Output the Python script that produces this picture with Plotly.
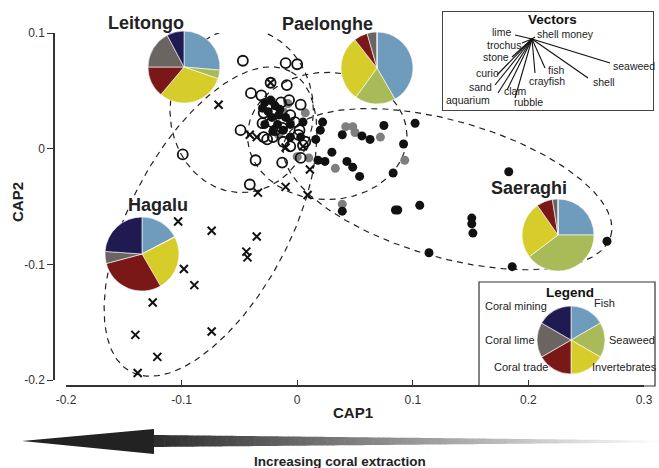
import numpy as np
import plotly.graph_objects as go

W, H = 659, 468
FONT = "Liberation Sans, Arial, Helvetica, sans-serif"

# ---------------- data ----------------
# Hagalu (crosses)
hagalu_x = [-0.103, -0.074, -0.035, -0.044, -0.043, -0.098, -0.089, -0.125, -0.140, -0.074,
            -0.121, -0.138, -0.023, -0.068, -0.041, -0.035, -0.010, 0.005, 0.011, -0.010,
            -0.034, 0.009]
hagalu_y = [-0.063, -0.071, -0.076, -0.089, -0.094, -0.104, -0.118, -0.133, -0.161, -0.158,
            -0.180, -0.194, 0.057, 0.038, 0.012, 0.010, 0.001, 0.002, -0.018, -0.033,
            -0.038, -0.040]

# Leitongo (open circles)
leitongo_x = [-0.047, -0.010, 0.000, -0.023, -0.009, -0.040, -0.031, -0.007, -0.014, 0.003,
              -0.026, -0.029, -0.006, -0.002, -0.022, -0.030, -0.049, -0.019, -0.013, 0.002,
              -0.029, -0.021, -0.012, 0.001, 0.005, -0.006, -0.099, -0.036, -0.013, 0.003,
              -0.041, -0.026, 0.007]
leitongo_y = [0.076, 0.074, 0.073, 0.057, 0.055, 0.048, 0.046, 0.042, 0.040, 0.038,
              0.036, 0.031, 0.029, 0.023, 0.023, 0.022, 0.016, 0.016, 0.018, 0.016,
              0.010, 0.010, 0.006, 0.012, 0.003, 0.002, -0.005, -0.010, -0.012, -0.008,
              -0.031, 0.008, 0.006]

# Paelonghe (grey dots)
paelonghe_x = [-0.022, 0.007, 0.042, 0.048, 0.050, 0.072, 0.093, 0.033, 0.039, 0.000,
               0.010, -0.012, -0.006, -0.016, -0.008]
paelonghe_y = [0.041, 0.031, 0.019, 0.019, 0.014, 0.010, -0.010, -0.017, -0.048, -0.007,
               -0.008, 0.032, 0.023, 0.012, 0.039]

# Saeraghi (black dots)
saeraghi_x = [0.022, 0.020, 0.016, 0.005, -0.006, 0.003, 0.039, 0.056, 0.063, 0.075,
              0.102, 0.092, 0.030, 0.018, 0.024, 0.043, 0.048, 0.054, 0.083, 0.183,
              0.039, 0.085, 0.087, 0.106, 0.151, 0.151, 0.152, 0.114, 0.186, 0.268,
              -0.028, -0.023, -0.019, -0.025, -0.015, -0.022, -0.010, -0.017, -0.028, -0.012,
              -0.006, -0.021, -0.016, -0.030]
saeraghi_y = [0.023, 0.016, 0.008, 0.023, 0.010, 0.010, 0.012, 0.011, 0.008, 0.020,
              0.022, 0.004, -0.003, -0.010, -0.011, -0.011, -0.016, -0.024, -0.021, -0.020,
              -0.054, -0.053, -0.053, -0.049, -0.060, -0.065, -0.073, -0.090, -0.102, -0.080,
              0.040, 0.042, 0.037, 0.032, 0.034, 0.027, 0.027, 0.021, 0.021, 0.016,
              0.021, 0.015, 0.029, 0.035]

# group ellipses: centre x, centre y, semi-axis a, semi-axis b, angle (deg)
ellipse_names = ["Leitongo", "Paelonghe", "Hagalu", "Saeraghi"]
ellipse_cx = [-0.048, 0.026, -0.075, 0.130]
ellipse_cy = [0.033, 0.011, -0.063, -0.035]
ellipse_a = [0.062, 0.069, 0.147, 0.147]
ellipse_b = [0.071, 0.055, 0.069, 0.059]
ellipse_ang = [0, 0, 62, -16]

# pies (Fish, Seaweed, Invertebrates, Coral trade, Coral lime, Coral mining)
pie_labels = ["Fish", "Seaweed", "Invertebrates", "Coral trade", "Coral lime", "Coral mining"]
pie_colors = ["#6f9cbd", "#a8bb58", "#d6cc2a", "#7a1717", "#6b6561", "#1f1a4f"]
leitongo_pie = [95, 14, 111, 50, 62, 28]
paelonghe_pie = [150, 66, 106, 22, 16, 0]
hagalu_pie = [62, 1, 87, 105, 19, 86]
saeraghi_pie = [90, 143, 92, 26, 9, 0]
legend_pie = [1, 1, 1, 1, 1, 1]

# vectors (inset units)
vector_names = ["lime", "shell money", "trochus", "stone", "curio", "sand", "aquarium",
                "clam", "rubble", "crayfish", "fish", "shell", "seaweed"]
vector_dx = [-17, 3, -10, -20, -35, -37, -34, -25, -17, 3, 13, 56, 78]
vector_dy = [4, 2, -4, -18, -36, -46, -54, -51, -59, -34, -29, -39, -24]
# label anchor positions (inset units) and side
vlabel_x = [-20, 4, -10, -22, -32, -39, -41, -29, -19, -4, 15, 60, 80]
vlabel_y = [7.5, 5, -6, -18, -34, -48, -61, -52, -63, -42, -31, -43, -27]
vlabel_side = ["right", "left", "right", "right", "right", "right", "right",
               "left", "left", "left", "left", "left", "left"]

x_ticks = [-0.2, -0.1, 0, 0.1, 0.2, 0.3]
x_ticktext = ["-0.2", "-0.1", "0", "0.1", "0.2", "0.3"]
y_ticks = [-0.2, -0.1, 0, 0.1]
y_ticktext = ["-0.2", "-0.1", "0", "0.1"]


def px(x):
    return x / W


def py(y):
    return 1 - y / H


fig = go.Figure()

# ellipses
t = np.linspace(0, 2 * np.pi, 300)
for cx, cy, a, b, ang in zip(ellipse_cx, ellipse_cy, ellipse_a, ellipse_b, ellipse_ang):
    th = np.deg2rad(ang)
    ex = cx + a * np.cos(t) * np.cos(th) - b * np.sin(t) * np.sin(th)
    ey = cy + a * np.cos(t) * np.sin(th) + b * np.sin(t) * np.cos(th)
    fig.add_trace(go.Scatter(x=ex, y=ey, mode="lines", hoverinfo="skip",
                             line=dict(color="#222", width=1.2, dash="6px,5px")))

fig.add_trace(go.Scatter(x=paelonghe_x, y=paelonghe_y, mode="markers", name="Paelonghe",
                         marker=dict(symbol="circle", size=9, color="#7f7f7f")))
fig.add_trace(go.Scatter(x=saeraghi_x, y=saeraghi_y, mode="markers", name="Saeraghi",
                         marker=dict(symbol="circle", size=9, color="#111")))
fig.add_trace(go.Scatter(x=leitongo_x, y=leitongo_y, mode="markers", name="Leitongo",
                         marker=dict(symbol="circle-open", size=10, color="#111",
                                     line=dict(width=1.8, color="#111"))))
fig.add_trace(go.Scatter(x=hagalu_x, y=hagalu_y, mode="markers", name="Hagalu",
                         marker=dict(symbol="x-thin", size=8, color="#111",
                                     line=dict(width=2, color="#111"))))

# pies: (values, centre px, centre py, radius px)
pie_specs = [
    (leitongo_pie, 184, 67, 36),
    (paelonghe_pie, 377, 68, 36),
    (hagalu_pie, 142, 254, 37),
    (saeraghi_pie, 558, 235, 36),
    (legend_pie, 571, 340, 34),
]
for vals, cx, cy, r in pie_specs:
    fig.add_trace(go.Pie(labels=pie_labels, values=vals, sort=False, direction="clockwise",
                         rotation=0, textinfo="none", hoverinfo="label+value",
                         marker=dict(colors=pie_colors, line=dict(color="white", width=0.6)),
                         domain=dict(x=[px(cx - r), px(cx + r)], y=[py(cy + r), py(cy - r)]),
                         showlegend=False))

# vectors inset
vx, vy = [], []
for dx, dy in zip(vector_dx, vector_dy):
    vx += [0, dx, None]
    vy += [0, dy, None]
fig.add_trace(go.Scatter(x=vx, y=vy, mode="lines", xaxis="x2", yaxis="y2", hoverinfo="skip",
                         line=dict(color="#111", width=1.1)))

annotations = []


def note(x, y, text, size, xanchor="center", color="#222", angle=0):
    annotations.append(dict(x=px(x), y=py(y), xref="paper", yref="paper", text=text,
                            showarrow=False, xanchor=xanchor, yanchor="middle",
                            textangle=angle, font=dict(family=FONT, size=size, color=color)))


for name, lx, ly, side in zip(vector_names, vlabel_x, vlabel_y, vlabel_side):
    annotations.append(dict(x=lx, y=ly, xref="x2", yref="y2", text=name, showarrow=False,
                            xanchor=side, yanchor="middle", borderpad=0,
                            font=dict(family=FONT, size=10.5, color="#222")))
note(552, 20, "<b>Vectors</b>", 13.5, color="#111")

# site labels
for txt, x, y in [("Leitongo", 146, 23), ("Paelonghe", 327, 24), ("Hagalu", 158, 205),
                  ("Saeraghi", 529, 188)]:
    note(x, y, f"<b>{txt}</b>", 18)

# legend box texts
note(570, 292, "<b>Legend</b>", 13.5, color="#111")
for txt, x, y in [("Coral mining", 483, 306), ("Fish", 592, 303),
                  ("Coral lime", 483, 340), ("Seaweed", 607, 340),
                  ("Coral trade", 492, 367), ("Invertebrates", 590, 367)]:
    note(x, y, txt, 11, xanchor="left")

# axis titles and arrow caption
note(353, 412, "<b>CAP1</b>", 15)
note(17, 202, "<b>CAP2</b>", 15, angle=-90)
note(340, 461, "<b>Increasing coral extraction</b>", 13.5)

shapes = []
# legend box
shapes.append(dict(type="rect", xref="paper", yref="paper", x0=px(479), x1=px(655),
                   y0=py(386), y1=py(282), line=dict(color="#333", width=1.2),
                   fillcolor="rgba(0,0,0,0)"))
# gradient arrow
N = 90
x_start, x_end = 153, 659
for i in range(N):
    f0, f1 = i / N, (i + 1) / N
    xa = x_start + (x_end - x_start) * f0
    xb = x_start + (x_end - x_start) * f1 + 0.6
    ta, tb = 435 + 5.5 * f0, 435 + 5.5 * f1
    ba, bb = 447 - 4.5 * f0, 447 - 4.5 * f1
    c = int(45 + 210 * f0)
    path = (f"M {px(xa)},{py(ta)} L {px(xb)},{py(tb)} L {px(xb)},{py(bb)} "
            f"L {px(xa)},{py(ba)} Z")
    shapes.append(dict(type="path", xref="paper", yref="paper", path=path,
                       fillcolor=f"rgb({c},{c},{c})", line=dict(width=0)))
shapes.append(dict(type="path", xref="paper", yref="paper",
                   path=f"M {px(22)},{py(441)} L {px(154)},{py(429)} L {px(154)},{py(454)} Z",
                   fillcolor="#222", line=dict(width=0)))

fig.update_layout(
    width=W, height=H, margin=dict(l=0, r=0, t=0, b=0, autoexpand=False),
    paper_bgcolor="white", plot_bgcolor="white", showlegend=False,
    font=dict(family=FONT, color="#222"),
    xaxis=dict(domain=[px(66), px(644)], range=[-0.2, 0.3], anchor="free", position=py(386),
               showline=True, linecolor="#333", linewidth=1.6, ticks="inside", ticklen=5,
               tickcolor="#333", tickwidth=1.3, tickvals=x_ticks, ticktext=x_ticktext,
               ticklabelstandoff=3,
               tickfont=dict(family=FONT, size=12, color="#333"), showgrid=False,
               zeroline=False, automargin=False),
    yaxis=dict(domain=[py(380), py(33)], range=[-0.2, 0.1], anchor="free", position=px(54),
               showline=True, linecolor="#333", linewidth=1.5, ticks="outside", ticklen=6,
               tickcolor="#333", tickwidth=1.3, tickvals=y_ticks, ticktext=y_ticktext,
               tickfont=dict(family=FONT, size=12, color="#333"), showgrid=False,
               zeroline=False, automargin=False),
    xaxis2=dict(domain=[px(443), px(653)], range=[-89, 121], anchor="y2", showline=True,
                mirror=True, linecolor="#444", linewidth=1.2, showticklabels=False,
                ticks="", showgrid=False, zeroline=False, automargin=False),
    yaxis2=dict(domain=[py(110), py(12)], range=[-71, 27], anchor="x2", showline=True,
                mirror=True, linecolor="#444", linewidth=1.2, showticklabels=False,
                ticks="", showgrid=False, zeroline=False, automargin=False),
    annotations=annotations,
    shapes=shapes,
)

fig.write_html("out.html", config={"responsive": False, "displayModeBar": False},
               post_script="document.body.style.margin='0';document.body.style.overflow='hidden';")
